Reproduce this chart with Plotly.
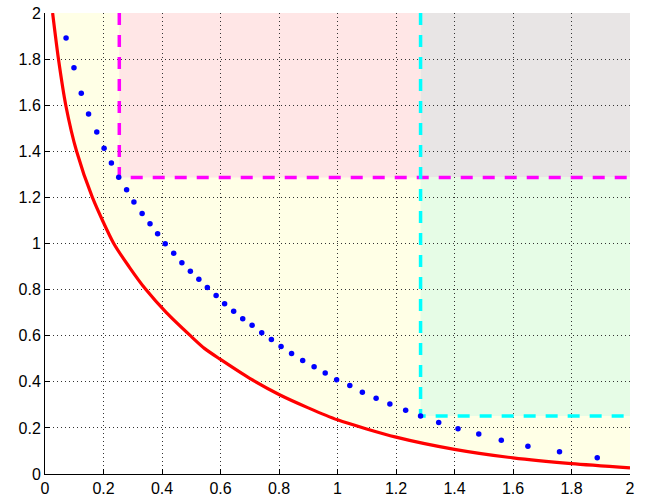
import plotly.graph_objects as go

# Red boundary curve
red_x = [0.026, 0.046, 0.071, 0.108, 0.162, 0.235, 0.287, 0.345, 0.415, 0.497, 0.545,
         0.6, 0.7, 0.8, 0.9, 1.0, 1.2, 1.4, 1.6, 1.8, 2.0]
red_y = [2.0, 1.8, 1.6, 1.4, 1.2, 1.0, 0.9, 0.8, 0.7, 0.6, 0.545,
         0.497, 0.415, 0.345, 0.287, 0.235, 0.16, 0.107, 0.07, 0.045, 0.027]

# Blue dotted points
blue_x = [0.072, 0.099, 0.124, 0.149, 0.177, 0.202, 0.227, 0.252, 0.279, 0.304,
          0.332, 0.359, 0.385, 0.411, 0.440, 0.468, 0.497, 0.526, 0.555, 0.585,
          0.614, 0.645, 0.676, 0.708, 0.741, 0.774, 0.807, 0.843, 0.881, 0.920,
          0.958, 0.997, 1.042, 1.085, 1.132, 1.179, 1.233, 1.284, 1.346, 1.412,
          1.483, 1.560, 1.651, 1.759, 1.888]
blue_y = [1.891, 1.762, 1.652, 1.562, 1.484, 1.413, 1.349, 1.287, 1.233, 1.180,
          1.130, 1.086, 1.042, 0.999, 0.958, 0.917, 0.880, 0.845, 0.809, 0.774,
          0.739, 0.706, 0.674, 0.645, 0.613, 0.583, 0.553, 0.523, 0.492, 0.465,
          0.438, 0.409, 0.384, 0.355, 0.329, 0.304, 0.277, 0.252, 0.223, 0.196,
          0.174, 0.146, 0.120, 0.096, 0.071]

# Reference points (corners of the dashed lines)
magenta_pt = (0.254, 1.286)
cyan_pt = (1.284, 0.252)
x_max, y_max = 2.0, 2.0

tick_vals = [0, 0.2, 0.4, 0.6, 0.8, 1, 1.2, 1.4, 1.6, 1.8, 2]
tick_text = ["0", "0.2", "0.4", "0.6", "0.8", "1", "1.2", "1.4", "1.6", "1.8", "2"]

fig = go.Figure()

# Region shapes (below gridlines)
yellow_path = "M " + " L ".join(f"{x},{y}" for x, y in zip(red_x, red_y)) + f" L {x_max},{y_max} Z"
shapes = [
    dict(type="path", path=yellow_path, fillcolor="#FFFFE6", line_width=0, layer="below"),
    dict(type="rect", x0=magenta_pt[0], x1=cyan_pt[0], y0=magenta_pt[1], y1=y_max,
         fillcolor="#FFE6E6", line_width=0, layer="below"),
    dict(type="rect", x0=cyan_pt[0], x1=x_max, y0=magenta_pt[1], y1=y_max,
         fillcolor="#E8E5E5", line_width=0, layer="below"),
    dict(type="rect", x0=cyan_pt[0], x1=x_max, y0=cyan_pt[1], y1=magenta_pt[1],
         fillcolor="#E6FCE6", line_width=0, layer="below"),
]

# Magenta dashed lines
fig.add_trace(go.Scatter(x=[magenta_pt[0], magenta_pt[0], x_max], y=[y_max, magenta_pt[1], magenta_pt[1]],
                         mode="lines", line=dict(color="#FF00FF", width=3.5, dash="12px,10px"),
                         showlegend=False, hoverinfo="skip"))
# Cyan dashed lines
fig.add_trace(go.Scatter(x=[cyan_pt[0], cyan_pt[0], x_max], y=[y_max, cyan_pt[1], cyan_pt[1]],
                         mode="lines", line=dict(color="#00FFFF", width=3.5, dash="12px,10px"),
                         showlegend=False, hoverinfo="skip"))
# Red curve
fig.add_trace(go.Scatter(x=red_x, y=red_y, mode="lines",
                         line=dict(color="#FF0000", width=3.2, shape="spline", smoothing=0.7),
                         showlegend=False))
# Blue dots
fig.add_trace(go.Scatter(x=blue_x, y=blue_y, mode="markers",
                         marker=dict(color="#0000FF", size=5.5, symbol="circle", line_width=0),
                         showlegend=False))

axis_common = dict(
    range=[0, 2], tickvals=tick_vals, ticktext=tick_text,
    showgrid=True, gridcolor="#333333", gridwidth=1, griddash="1px,3px",
    zeroline=False, showline=True, linecolor="black", linewidth=1,
    ticks="inside", ticklen=5, tickcolor="black",
    tickfont=dict(family="Liberation Sans, Arial", size=16, color="black"),
    ticklabeloverflow="allow",
    fixedrange=True, automargin=False,
)

fig.update_layout(
    width=646, height=500,
    margin=dict(l=45, r=16, t=13, b=26, autoexpand=False),
    paper_bgcolor="white", plot_bgcolor="white",
    shapes=shapes,
    xaxis=axis_common,
    yaxis=axis_common,
    showlegend=False,
)

# remove the default page body margin so the figure sits at the window's top-left corner
fig.write_html("out.html", config={"displayModeBar": False},
               post_script="document.body.style.margin='0px';")
